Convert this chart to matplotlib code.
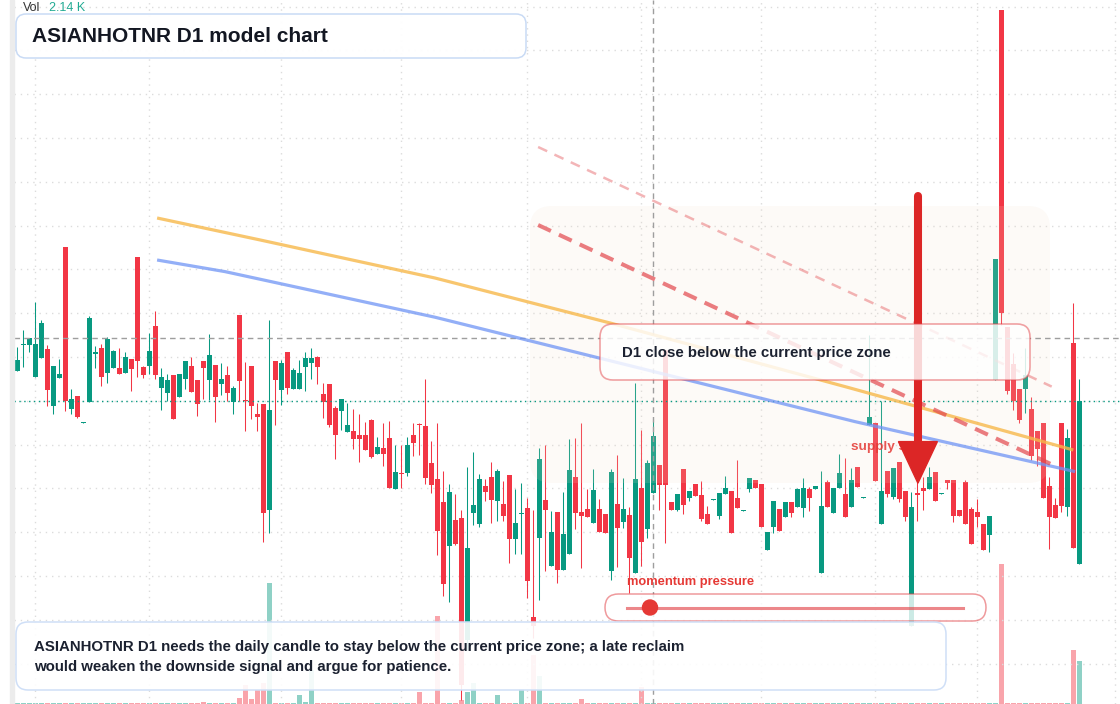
import matplotlib

matplotlib.use("Agg")
import matplotlib.pyplot as plt
import matplotlib.transforms as mtransforms
from matplotlib.colors import to_rgba
from matplotlib.patches import Circle, FancyBboxPatch, Polygon, Rectangle
import numpy as np

plt.rcParams["font.family"] = ["Liberation Sans", "DejaVu Sans"]

UP = "#089981"
DOWN = "#f23645"
INK = "#1b2130"

# ---- daily candles (price units), one per session ----
opens = [
    174.7, 187.7, 187.7, 171.7, 181.2, 185.5, 157.2, 171.2, 236.5, 155.7,
    162.0, 148.7, 159.2, 183.0, 186.0, 173.7, 176.2, 176.0, 173.7, 180.5,
    231.5, 176.5, 177.2, 197.0, 166.2, 163.7, 172.5, 161.7, 170.7, 177.0,
    170.0, 179.5, 170.2, 177.5, 168.2, 172.5, 159.2, 202.5, 159.8, 177.0,
    153.2, 158.0, 105.2, 179.5, 165.2, 184.0, 165.7, 165.7, 176.7, 178.7,
    181.5, 163.0, 168.0, 156.0, 154.7, 144.2, 144.5, 142.5, 142.5, 150.0,
    133.2, 136.0, 141.0, 115.7, 123.5, 123.7, 142.7, 147.7, 147.2, 128.7,
    120.7, 109.2, 87.2, 100.2, 101.2, 40.0, 103.7, 98.2, 117.0, 121.5,
    109.7, 108.2, 122.5, 90.7, 102.8, 106.2, 51.5, 91.2, 110.0, 77.2,
    104.0, 75.2, 83.2, 121.5, 104.0, 105.7, 98.7, 105.7, 103.2, 74.7,
    108.2, 99.2, 102.7, 73.7, 116.2, 95.5, 113.5, 127.5, 185.0, 109.0,
    105.2, 125.5, 111.2, 118.0, 112.5, 103.0, 110.2, 102.2, 113.2, 114.7,
    111.2, 104.7, 115.7, 120.2, 118.0, 85.2, 96.7, 105.7, 101.7, 109.0,
    106.7, 106.2, 115.7, 115.7, 73.7, 119.0, 103.7, 116.2, 113.2, 106.7,
    126.7, 111.2, 147.7, 148.7, 98.2, 124.7, 111.7, 129.2, 114.7, 47.0,
    113.5, 116.2, 115.7, 124.2, 113.2, 120.2, 120.2, 105.2, 119.2, 105.7,
    104.2, 98.2, 92.7, 170.0, 355.0, 196.5, 178.0, 165.5, 165.5, 155.5,
    144.5, 148.7, 117.2, 107.7, 148.7, 106.7, 188.7, 78.2,
]
highs = [
    186.7, 195.0, 190.8, 209.0, 200.0, 187.3, 177.0, 180.5, 236.5, 165.5,
    162.0, 149.0, 202.0, 187.0, 188.0, 191.5, 185.0, 186.0, 184.0, 180.5,
    231.5, 177.0, 193.5, 204.5, 176.0, 173.0, 172.5, 173.0, 179.5, 181.5,
    170.0, 179.5, 193.0, 177.5, 178.5, 177.0, 167.2, 202.5, 179.0, 177.0,
    158.7, 158.0, 200.0, 179.5, 180.0, 184.0, 176.0, 180.0, 184.0, 186.0,
    182.0, 168.5, 168.0, 157.0, 160.5, 158.5, 155.5, 153.2, 149.2, 150.7,
    141.7, 148.7, 149.7, 137.7, 137.7, 141.7, 148.7, 148.7, 170.7, 139.7,
    148.7, 124.7, 118.2, 113.2, 105.2, 126.3, 134.0, 123.0, 120.7, 129.0,
    125.5, 119.7, 122.5, 115.7, 118.7, 111.2, 105.2, 136.0, 137.5, 104.7,
    104.0, 114.2, 140.5, 141.0, 148.7, 115.7, 125.7, 110.7, 103.2, 125.7,
    132.7, 121.2, 106.7, 168.3, 145.2, 130.0, 150.5, 127.5, 185.0, 109.0,
    113.0, 125.5, 114.5, 118.0, 119.5, 107.0, 110.7, 113.7, 122.0, 114.7,
    130.0, 105.2, 121.0, 120.2, 118.0, 94.2, 109.7, 105.7, 109.0, 109.0,
    116.2, 121.0, 116.7, 117.2, 124.7, 120.2, 116.2, 133.2, 131.2, 126.2,
    126.7, 111.5, 192.5, 148.7, 159.7, 124.7, 126.0, 129.2, 114.7, 114.2,
    121.7, 121.7, 126.5, 124.2, 113.7, 120.2, 120.2, 105.2, 120.2, 106.7,
    110.7, 98.2, 102.2, 230.5, 355.0, 196.5, 183.3, 165.5, 186.0, 161.5,
    144.5, 148.7, 121.7, 111.2, 148.7, 145.7, 208.7, 170.7,
]
lows = [
    174.7, 176.7, 184.2, 171.7, 181.2, 157.2, 153.2, 171.2, 154.7, 153.2,
    151.2, 148.7, 159.2, 176.2, 167.2, 168.7, 176.2, 173.2, 173.7, 164.7,
    171.7, 171.2, 173.2, 170.7, 155.2, 159.7, 150.7, 161.7, 165.7, 164.2,
    152.2, 160.7, 160.2, 149.2, 162.7, 159.7, 153.2, 159.7, 144.7, 150.7,
    144.7, 89.2, 93.7, 147.7, 157.7, 163.2, 165.7, 165.7, 164.7, 170.7,
    168.2, 151.2, 146.7, 130.7, 145.2, 144.2, 135.7, 129.2, 135.2, 131.2,
    133.2, 127.2, 116.2, 115.7, 116.2, 122.2, 132.2, 132.7, 118.2, 113.7,
    82.7, 62.2, 59.2, 87.7, 10.0, 35.0, 97.7, 96.7, 109.7, 98.7,
    99.7, 99.7, 78.7, 83.2, 83.2, 61.2, 41.0, 60.2, 74.7, 77.2,
    68.7, 75.2, 83.2, 95.7, 76.2, 101.7, 98.7, 94.2, 93.7, 70.2,
    76.7, 96.2, 63.3, 73.7, 77.2, 91.2, 113.5, 105.0, 88.3, 105.2,
    104.7, 103.2, 109.7, 112.2, 99.7, 98.2, 110.2, 100.7, 113.2, 93.7,
    106.2, 104.7, 114.2, 116.2, 96.7, 85.2, 93.7, 94.7, 101.7, 101.7,
    106.7, 101.7, 104.7, 115.7, 73.7, 106.7, 103.7, 116.2, 101.7, 106.7,
    116.7, 111.2, 147.7, 119.7, 98.2, 111.7, 110.7, 109.2, 99.7, 47.0,
    99.7, 105.2, 115.7, 109.7, 113.2, 115.7, 99.2, 102.2, 98.2, 88.2,
    96.7, 85.2, 84.2, 170.0, 197.5, 163.0, 155.0, 148.3, 153.5, 130.0,
    127.2, 111.2, 85.7, 101.2, 104.2, 102.2, 86.2, 78.2,
]
closes = [
    180.0, 188.0, 190.8, 188.0, 198.5, 165.0, 177.0, 173.0, 159.7, 160.5,
    151.7, 149.0, 201.0, 184.0, 171.7, 190.5, 184.5, 173.2, 181.5, 175.7,
    179.7, 172.7, 184.5, 172.7, 171.5, 170.0, 150.7, 173.0, 179.5, 164.2,
    158.2, 176.2, 182.5, 161.7, 170.5, 163.7, 166.0, 169.7, 159.3, 157.2,
    151.7, 103.7, 155.0, 170.2, 178.5, 166.2, 175.0, 173.5, 181.0, 181.0,
    176.7, 159.2, 147.7, 142.7, 160.5, 147.5, 140.7, 140.7, 135.2, 131.7,
    136.7, 133.2, 116.2, 124.2, 123.2, 137.7, 138.7, 147.3, 121.2, 117.7,
    94.7, 68.2, 114.2, 88.2, 17.5, 86.0, 107.7, 120.5, 114.2, 110.2,
    124.5, 102.2, 90.7, 98.5, 103.2, 69.7, 47.0, 130.5, 105.2, 94.0,
    75.2, 93.0, 125.0, 103.7, 102.2, 101.7, 115.2, 94.2, 93.7, 124.0,
    96.2, 105.7, 81.2, 120.7, 89.2, 128.5, 142.0, 117.5, 117.5, 105.2,
    113.0, 107.7, 114.5, 112.2, 100.7, 98.2, 110.7, 113.7, 116.2, 93.7,
    106.2, 105.2, 121.0, 116.2, 96.7, 94.2, 109.7, 94.7, 109.0, 103.7,
    115.7, 116.2, 111.2, 117.2, 107.2, 106.7, 116.2, 123.7, 101.7, 120.2,
    116.7, 111.5, 151.7, 119.7, 114.7, 113.2, 126.0, 110.7, 101.7, 106.7,
    112.7, 114.7, 121.7, 109.7, 113.7, 118.7, 102.2, 102.2, 98.2, 88.2,
    101.7, 85.2, 102.2, 230.5, 203.5, 164.5, 159.5, 150.0, 172.5, 132.0,
    135.7, 111.2, 101.7, 101.2, 107.2, 141.2, 86.2, 159.7,
]
volumes = [
    60, 60, 60, 60, 60, 60, 60, 60, 60, 60,
    60, 60, 60, 60, 60, 60, 60, 60, 60, 60,
    60, 60, 60, 60, 60, 60, 60, 60, 60, 60,
    60, 100, 60, 60, 60, 60, 60, 300, 950, 250,
    700, 1050, 6050, 60, 60, 60, 60, 450, 100, 1700,
    60, 60, 60, 60, 60, 60, 60, 60, 60, 60,
    60, 60, 60, 60, 60, 60, 60, 600, 60, 60,
    4400, 60, 60, 60, 200, 600, 1050, 60, 60, 60,
    450, 60, 60, 60, 750, 60, 2450, 1400, 60, 60,
    60, 60, 60, 60, 250, 60, 60, 60, 60, 60,
    60, 60, 60, 60, 850, 60, 60, 60, 60, 60,
    60, 60, 60, 60, 60, 60, 60, 60, 60, 60,
    60, 60, 60, 60, 60, 60, 60, 60, 60, 60,
    60, 60, 60, 60, 60, 60, 60, 60, 60, 60,
    60, 60, 60, 60, 60, 60, 60, 60, 60, 60,
    60, 60, 60, 60, 60, 60, 60, 60, 60, 60,
    60, 60, 60, 60, 7000, 60, 60, 60, 60, 60,
    60, 60, 60, 60, 60, 60, 2700, 2140,
]
month_starts = [3, 22, 44, 64, 85, 104, 124, 143, 160, 183]

# model overlays (session index, price)
fit_upper_x = [23.3, 40.5, 69.6, 98.8, 138.8, 176.0]
fit_upper_y = [251.0, 240.0, 221.0, 198.5, 166.0, 135.0]
fit_lower_x = [23.3, 34.6, 69.6, 97.1, 139.6, 176.3]
fit_lower_y = [230.0, 224.2, 201.4, 180.9, 149.2, 124.2]
chan_outer_x = [86.8, 172.4]
chan_outer_y = [286.5, 166.7]
chan_inner_x = [86.8, 172.6]
chan_inner_y = [247.5, 127.5]
arrow_x, arrow_top, arrow_base, arrow_tip = 150.1, 262.0, 139.2, 118.4
cursor_x, cursor_y = 106, 191.0

W, H = 1120, 704
fig = plt.figure(figsize=(W / 100, H / 100), dpi=100)
fig.patch.set_facecolor("white")
# pixel coordinates, origin top-left
PX = mtransforms.Affine2D().scale(1 / 100, -1 / 100).translate(0, H / 100) + fig.dpi_scale_trans

ax = fig.add_axes([14 / W, 0, 1 - 14 / W, 1])
axv = ax.twinx()
ax.set_zorder(1)
axv.set_zorder(0)
ax.patch.set_visible(False)

n = len(opens)
idx = np.arange(n)
o = np.array(opens)
c = np.array(closes)
up = c >= o
cols = np.where(up, UP, DOWN)

# volume
vcols = [to_rgba(UP, 0.45) if u else to_rgba(DOWN, 0.45) for u in up]
axv.bar(idx, volumes, width=0.8, color=vcols, linewidth=0)
axv.set_ylim(0, 35200)

# candles
ax.vlines(idx, lows, highs, colors=cols, lw=0.75, zorder=2)
ax.bar(idx, np.maximum(np.abs(c - o), 0.5), bottom=np.minimum(o, c), width=0.8,
       color=cols, linewidth=0, zorder=2)

ax.set_xlim(-0.55, 183.78)
ax.set_ylim(8, 360)
ax.set_xticks(month_starts)
ax.set_yticks(np.arange(28.25, 360, 21.9))
ax.grid(True, color="#dcdcdc", lw=1, ls=(0, (1, 3.5)))
ax.set_axisbelow(True)
for a in (ax, axv):
    a.tick_params(left=False, right=False, bottom=False, labelleft=False,
                  labelright=False, labelbottom=False)
    for s in a.spines.values():
        s.set_visible(False)

# price line and crosshair
ax.axhline(closes[-1], color=UP, lw=1, ls=(0, (1, 2.5)), zorder=2.6)
ax.axhline(cursor_y, color="#9e9e9e", lw=1, ls=(0, (4, 3)), zorder=2.6)
ax.axvline(cursor_x, color="#9e9e9e", lw=1, ls=(0, (4, 3)), zorder=2.6)

# shaded zone over candles
zone = FancyBboxPatch((530, 206), 520, 277, boxstyle="round,pad=0,rounding_size=22",
                      transform=PX, facecolor=to_rgba("#f2deca", 0.15), edgecolor="none",
                      zorder=2.5)
ax.add_patch(zone)

# fitted curves and channel
ax.plot(fit_upper_x, fit_upper_y, color="#f7b84a", alpha=0.8, lw=2.3, zorder=3,
        solid_capstyle="butt")
ax.plot(fit_lower_x, fit_lower_y, color="#6f94f5", alpha=0.75, lw=2.3, zorder=3,
        solid_capstyle="butt")
ax.plot(chan_outer_x, chan_outer_y, color="#e2474c", alpha=0.4, lw=1.8,
        ls=(0, (4, 3.2)), zorder=3)
ax.plot(chan_inner_x, chan_inner_y, color="#e2474c", alpha=0.7, lw=2.9,
        ls=(0, (3.5, 2.2)), zorder=3)

ax.text(139.0, 136.5, "supply side", color="#e53935", alpha=0.85, fontsize=9.7,
        fontweight="bold", va="center", ha="left", zorder=3.5)

# arrow
ax.plot([arrow_x, arrow_x], [arrow_top, arrow_base], color="#dc2626", lw=5.8,
        solid_capstyle="round", zorder=4)
ax.add_patch(Polygon([(arrow_x - 3.25, arrow_base), (arrow_x + 3.25, arrow_base),
                      (arrow_x, arrow_tip)], closed=True, color="#dc2626", zorder=4))

# left border strip
fig.add_artist(Rectangle((10, 0), 4, H, transform=PX, color="#ececec", zorder=5))


def card(x0, y0, x1, y1, r, fill, fa, edge, ea, lw=1.1):
    p = FancyBboxPatch((x0, y0), x1 - x0, y1 - y0,
                       boxstyle=f"round,pad=0,rounding_size={r}", transform=PX,
                       facecolor=to_rgba(fill, fa), edgecolor=to_rgba(edge, ea),
                       lw=lw, zorder=5)
    fig.add_artist(p)


# title card
card(16, 14, 526, 58, 10, "white", 0.95, "#c9dbf5", 1.0)
fig.text(32, 36, "ASIANHOTNR D1 model chart", transform=PX, fontsize=15,
         fontweight="bold", color="#131722", va="center", zorder=6)
fig.text(23, 8, "Vol", transform=PX, fontsize=9, color="#333333", va="center", zorder=6)
fig.text(49, 8, "2.14 K", transform=PX, fontsize=9, color="#22ab94", va="center", zorder=6)

# signal card
card(600, 324, 1030, 380, 13, "white", 0.82, "#e2474c", 0.5, 1.2)
fig.text(622, 353, "D1 close below the current price zone", transform=PX, fontsize=10.8,
         fontweight="bold", color=INK, va="center", zorder=6)

# momentum slider
fig.text(627, 582, "momentum pressure", transform=PX, fontsize=9.3, fontweight="bold",
         color="#e53935", va="center", zorder=6)
card(605, 594, 986, 621, 13.5, "white", 0.8, "#e2474c", 0.55, 1.1)
fig.add_artist(plt.Line2D([627, 963], [607.5, 607.5], transform=PX, color="#e2474c",
                          alpha=0.65, lw=2.2, zorder=6))
fig.add_artist(Circle((650, 607.5), 7.5, transform=PX, color="#e53935", zorder=6))

# note card
card(16, 622, 946, 690, 12, "white", 0.9, "#cfdff7", 1.0)
fig.text(34, 647, "ASIANHOTNR D1 needs the daily candle to stay below the current price zone; a late reclaim",
         transform=PX, fontsize=10.8, fontweight="bold", color=INK, va="center", zorder=6)
fig.text(34, 667, "would weaken the downside signal and argue for patience.",
         transform=PX, fontsize=10.8, fontweight="bold", color=INK, va="center", zorder=6)

fig.savefig("out.png", dpi=100)
